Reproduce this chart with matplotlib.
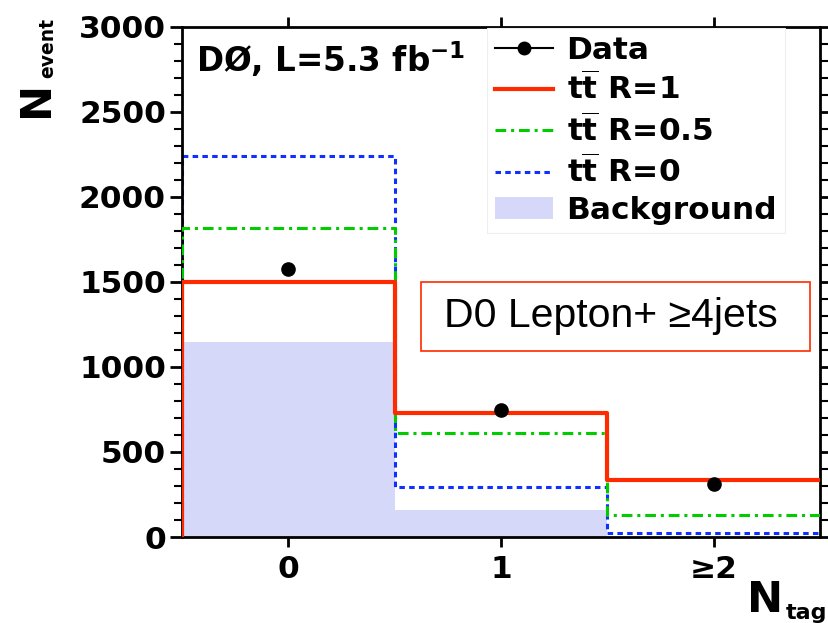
import matplotlib
matplotlib.use("Agg")
import matplotlib.pyplot as plt
from matplotlib.lines import Line2D
import numpy as np

# bin contents
bin_edges = [-0.5, 0.5, 1.5, 2.5]
bin_centers = [0, 1, 2]
tick_labels = ["0", "1", "\u22652"]
data_vals = [1576, 747, 312]
r1_vals = [1497, 727, 335]
r05_vals = [1818, 612, 129]
r0_vals = [2241, 294, 24]
bkg_vals = [1147, 160, 0]

plt.rcParams["font.family"] = ["DejaVu Sans"]
plt.rcParams["font.weight"] = "bold"
plt.rcParams["mathtext.fontset"] = "dejavusans"


def step_path(vals):
    # rise from zero at the left edge, no drop at the right edge
    x = np.repeat(bin_edges, 2)[1:-1]
    y = np.repeat(vals, 2)
    return np.r_[bin_edges[0], x], np.r_[0, y]


fig = plt.figure(figsize=(8.29, 6.23), dpi=100)
ax = fig.add_axes([0.2195, 0.138, 0.7695, 0.819])

ax.stairs(bkg_vals, bin_edges, fill=True, color="#d5d8f8", lw=0, zorder=1)
x, y = step_path(r0_vals)
ax.plot(x, y, color="#1030ff", lw=2.2, linestyle=(0, (1.8, 1.4)), zorder=2)
x, y = step_path(r05_vals)
ax.plot(x, y, color="#00cc00", lw=2.2, linestyle=(0, (3.5, 1.6, 1.0, 1.6)), zorder=3)
x, y = step_path(r1_vals)
ax.plot(x, y, color="#ff2a00", lw=3.0, zorder=4)
ax.plot(bin_centers, data_vals, "o", color="black", ms=9.5, zorder=5)

ax.set_xlim(-0.5, 2.5)
ax.set_ylim(0, 3000)
ax.set_xticks(bin_centers)
ax.set_xticklabels(tick_labels)
ax.set_yticks(np.arange(0, 3001, 500))
ax.set_yticks(np.arange(0, 3001, 100), minor=True)
ax.tick_params(axis="both", which="major", direction="out", length=8.5, width=2,
               labelsize=22.5, top=True, right=True, pad=3)
ax.tick_params(axis="y", which="minor", direction="out", length=5.5, width=1.5, right=True)
ax.tick_params(axis="x", which="major", length=7, pad=6)
for s in ax.spines.values():
    s.set_linewidth(2)

# axis titles: big N with small subscript
fig.text(0.018, 0.812, "N", rotation=90, fontsize=31, va="bottom", ha="left")
fig.text(0.046, 0.874, "event", rotation=90, fontsize=13.5, va="bottom", ha="left")
fig.text(0.901, 0.003, "N", fontsize=31, va="bottom", ha="left")
fig.text(0.948, 0.0, "tag", fontsize=16, va="bottom", ha="left")

ax.text(0.022, 0.975, r"DØ, L=5.3 fb$^{\mathbf{-1}}$", transform=ax.transAxes,
        fontsize=23.5, fontweight="bold", va="top", ha="left", zorder=6)

# channel label in a red frame
ax.add_patch(plt.Rectangle((0.3746, 0.365), 0.6094, 0.135, transform=ax.transAxes,
                           fc="white", ec="#ff2a00", lw=1.2, zorder=6))
ax.text(0.672, 0.4325, "D0 Lepton+ \u22654jets", transform=ax.transAxes,
        fontsize=29.5, fontweight="normal", family="Liberation Sans", va="center",
        ha="center", zorder=7)

tt = r"$\mathbf{t\overline{t}}$"
handles = [
    Line2D([], [], color="black", marker="o", ms=9, lw=1.5),
    Line2D([], [], color="#ff2a00", lw=3.0),
    Line2D([], [], color="#00cc00", lw=2.2, linestyle=(0, (3.5, 1.6, 1.0, 1.6))),
    Line2D([], [], color="#1030ff", lw=2.2, linestyle=(0, (1.8, 1.4))),
    plt.Rectangle((0, 0), 1, 1, fc="#d5d8f8", ec="none"),
]
labels = ["Data", tt + " R=1", tt + " R=0.5", tt + " R=0", "Background"]
leg = ax.legend(handles, labels, loc="upper left", bbox_to_anchor=(0.478, 0.998),
                fontsize=22.5, frameon=True, fancybox=False, edgecolor="#eeeeee",
                framealpha=1, handlelength=1.85, labelspacing=0.23,
                handletextpad=0.45, borderpad=0.25, borderaxespad=0)
leg.get_frame().set_linewidth(0.8)
leg.set_zorder(8)

fig.savefig("out.png", dpi=100)
